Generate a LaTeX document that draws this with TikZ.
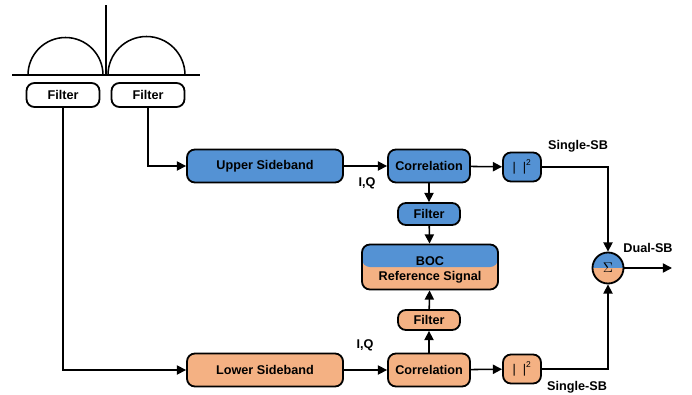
\documentclass[tikz,border=0pt]{standalone}
\usepackage{fontspec}
\setmainfont{Liberation Sans}
\usetikzlibrary{arrows.meta}
\definecolor{sbblue}{RGB}{84,146,212}
\definecolor{sborange}{RGB}{244,177,131}

\begin{document}
\begin{tikzpicture}[x=0.025cm,y=-0.025cm,
  font=\fontsize{9}{10}\selectfont\bfseries,
  blk/.style={draw,line width=1.3pt,rounded corners=0.2cm,inner sep=0pt,
    minimum height=0.825cm},
  upblk/.style={blk,fill=sbblue},
  loblk/.style={blk,fill=sborange},
  halfblk/.style={fill=sborange,path picture={\fill[sbblue]
    (path picture bounding box.north west) rectangle (path picture bounding box.east);}},
  arr/.style={line width=1.1pt,-{Triangle[length=0.23cm,width=0.23cm]}},
  lbl/.style={inner sep=1pt}]
\useasboundingbox (0,0) rectangle (692,395);
% antenna filters
\draw[line width=1.1pt] (12,75) -- (200,75);
\draw[line width=1.1pt] (106,5) -- (106,75);
\draw[line width=1.1pt] (28,75) arc[start angle=180,end angle=360,radius=37.5];
\draw[line width=1.1pt] (108,75) arc[start angle=180,end angle=360,radius=38.5];
\node[blk,fill=white,minimum width=1.825cm,minimum height=0.6cm] (filtL) at (63,95) {Filter};
\node[blk,fill=white,minimum width=1.825cm,minimum height=0.6cm] (filtR) at (148,95) {Filter};
% upper branch
\node[upblk,minimum width=3.9cm] (upSB) at (265,166) {Upper Sideband};
\node[upblk,minimum width=2.05cm] (upCor) at (429,166) {Correlation};
\node[upblk,minimum width=0.95cm,minimum height=0.725cm,font=\fontsize{9}{10}\selectfont] (upSq) at (522,167) {|\ \ |\textsuperscript{2}};
\node[upblk,minimum width=1.55cm,minimum height=0.55cm] (upFilt) at (429,214) {Filter};
% reference
\node[blk,halfblk,minimum width=3.4cm,minimum height=1.125cm] (boc) at (430,267) {};
\node[lbl] (bocTop) at (430,261) {BOC};
\node[lbl] (bocBot) at (430,277) {Reference Signal};
% lower branch
\node[loblk,minimum width=1.55cm,minimum height=0.5cm] (loFilt) at (429,320) {Filter};
\node[loblk,minimum width=3.9cm] (loSB) at (265,370) {Lower Sideband};
\node[loblk,minimum width=2.05cm] (loCor) at (429,370) {Correlation};
\node[loblk,minimum width=0.95cm,minimum height=0.725cm,font=\fontsize{9}{10}\selectfont] (loSq) at (522,369) {|\ \ |\textsuperscript{2}};
% sum
\node[draw,circle,line width=1.3pt,halfblk,minimum size=0.775cm,inner sep=0pt,font=\normalsize] (sum) at (608,268) {$\Sigma$};
\coordinate (out) at (672,268);
% labels
\node[lbl] at (367,183) {I,Q};
\node[lbl] at (365,345) {I,Q};
\node[lbl] at (578,146) {Single-SB};
\node[lbl] at (577,387) {Single-SB};
\node[lbl] at (648,248) {Dual-SB};
% connectors
\draw[arr] (filtR) |- (upSB);
\draw[arr] (filtL) |- (loSB);
\draw[arr] (upSB) -- (upCor);
\draw[arr] (upCor) -- (upSq);
\draw[arr] (upCor) -- (upFilt);
\draw[arr] (upFilt) -- (boc);
\draw[arr] (loSB) -- (loCor);
\draw[arr] (loCor) -- (loSq);
\draw[arr] (loCor) -- (loFilt);
\draw[arr] (loFilt) -- (boc);
\draw[arr] (upSq) -| (sum);
\draw[arr] (loSq) -| (sum);
\draw[arr] (sum) -- (out);
\end{tikzpicture}
\end{document}
